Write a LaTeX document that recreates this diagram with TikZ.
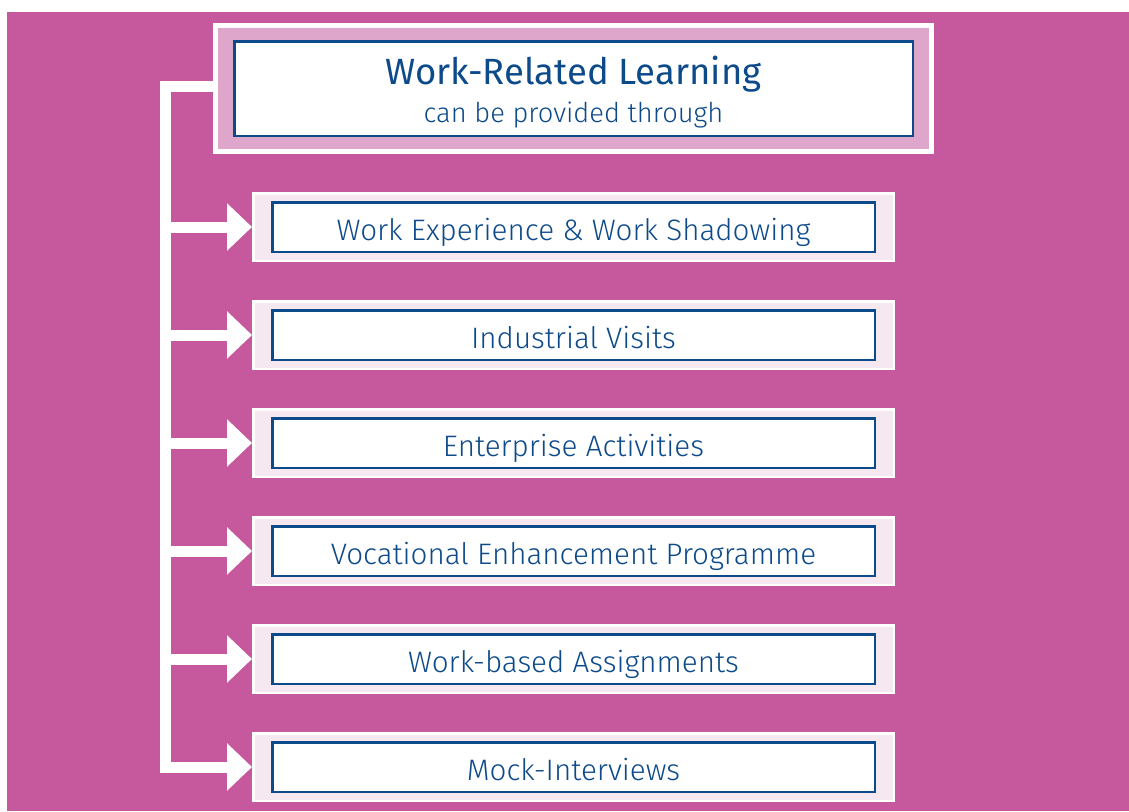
\documentclass[tikz,border=0pt]{standalone}
\usepackage{fontspec}
\setmainfont{Fira Sans}[UprightFont=* Light]
\newfontfamily\headfont{Fira Sans}
\usetikzlibrary{arrows.meta,positioning}

\definecolor{wrlbg}{HTML}{C6589D}
\definecolor{wrlrose}{HTML}{DEA6CB}
\definecolor{wrlblush}{HTML}{F5E8F1}
\definecolor{wrlblue}{HTML}{0D4A8A}

\begin{document}
\begin{tikzpicture}[%
    x=1pt, y=-1pt,              % pixel units, measured from the top left
    node distance=108pt,        % pitch of the item boxes
    >={Triangle[length=25pt,width=46pt]}, % big flat arrow heads
    ]
% -------------------------------------------------
% Box and connector styles
\tikzset{
  titleframe/.style={draw=white, line width=5pt, fill=wrlrose,
    minimum width=716pt, minimum height=126pt, inner sep=0pt},
  titlebox/.style={draw=wrlblue, line width=2.5pt, fill=white,
    minimum width=678.5pt, minimum height=94.5pt, inner sep=0pt},
  itemframe/.style={draw=white, line width=2.5pt, fill=wrlblush, on grid,
    minimum width=640.5pt, minimum height=67.5pt, inner sep=0pt},
  itembox/.style={draw=wrlblue, line width=2.5pt, fill=white,
    minimum width=602.5pt, minimum height=49.5pt, inner sep=0pt,
    text height=27pt, text depth=0pt, text=wrlblue,
    font=\fontsize{29.6}{35}\selectfont},
  headtext/.style={anchor=base, text=wrlblue, inner sep=0pt,
    font=\headfont\fontsize{36.5}{44}\selectfont},
  subtext/.style={anchor=base, text=wrlblue, inner sep=0pt,
    font=\fontsize{27.3}{32}\selectfont},
  feed/.style={draw=white, line width=11pt}
}
% -------------------------------------------------
% Page and background
\useasboundingbox (0,0) rectangle (1129,811);
\fill[white] (0,0) rectangle (1129,811);
\fill[wrlbg] (7,12) rectangle (1129,811);

% Heading box
\node [titleframe] (tf) at (573.5,88.5) {};
\node [titlebox] (tb) at (tf) {};
\node [headtext] (th) at (573.5,84) {Work-Related Learning};
\node [subtext] (ts) at (573.5,122) {can be provided through};

% Item frames, one below the other
\node [itemframe] (f1) at (573.5,227) {};
\node [itemframe, below=of f1] (f2) {};
\node [itemframe, below=of f2] (f3) {};
\node [itemframe, below=of f3] (f4) {};
\node [itemframe, below=of f4] (f5) {};
\node [itemframe, below=of f5] (f6) {};

% Item texts
\node [itembox] (b1) at (f1) {Work Experience \& Work Shadowing};
\node [itembox] (b2) at (f2) {Industrial Visits};
\node [itembox] (b3) at (f3) {Enterprise Activities};
\node [itembox] (b4) at (f4) {Vocational Enhancement Programme};
\node [itembox] (b5) at (f5) {Work-based Assignments};
\node [itembox] (b6) at (f6) {Mock-Interviews};

% Spine and arrows
\coordinate (spine) at (165.5,0);
\draw[feed, ->] ([yshift=2pt]tf.west) -| (spine |- f6.west) -- (f6.west);
\draw[feed, ->] (spine |- f1.west) -- (f1.west);
\draw[feed, ->] (spine |- f2.west) -- (f2.west);
\draw[feed, ->] (spine |- f3.west) -- (f3.west);
\draw[feed, ->] (spine |- f4.west) -- (f4.west);
\draw[feed, ->] (spine |- f5.west) -- (f5.west);

% -------------------------------------------------
\end{tikzpicture}
\end{document}
